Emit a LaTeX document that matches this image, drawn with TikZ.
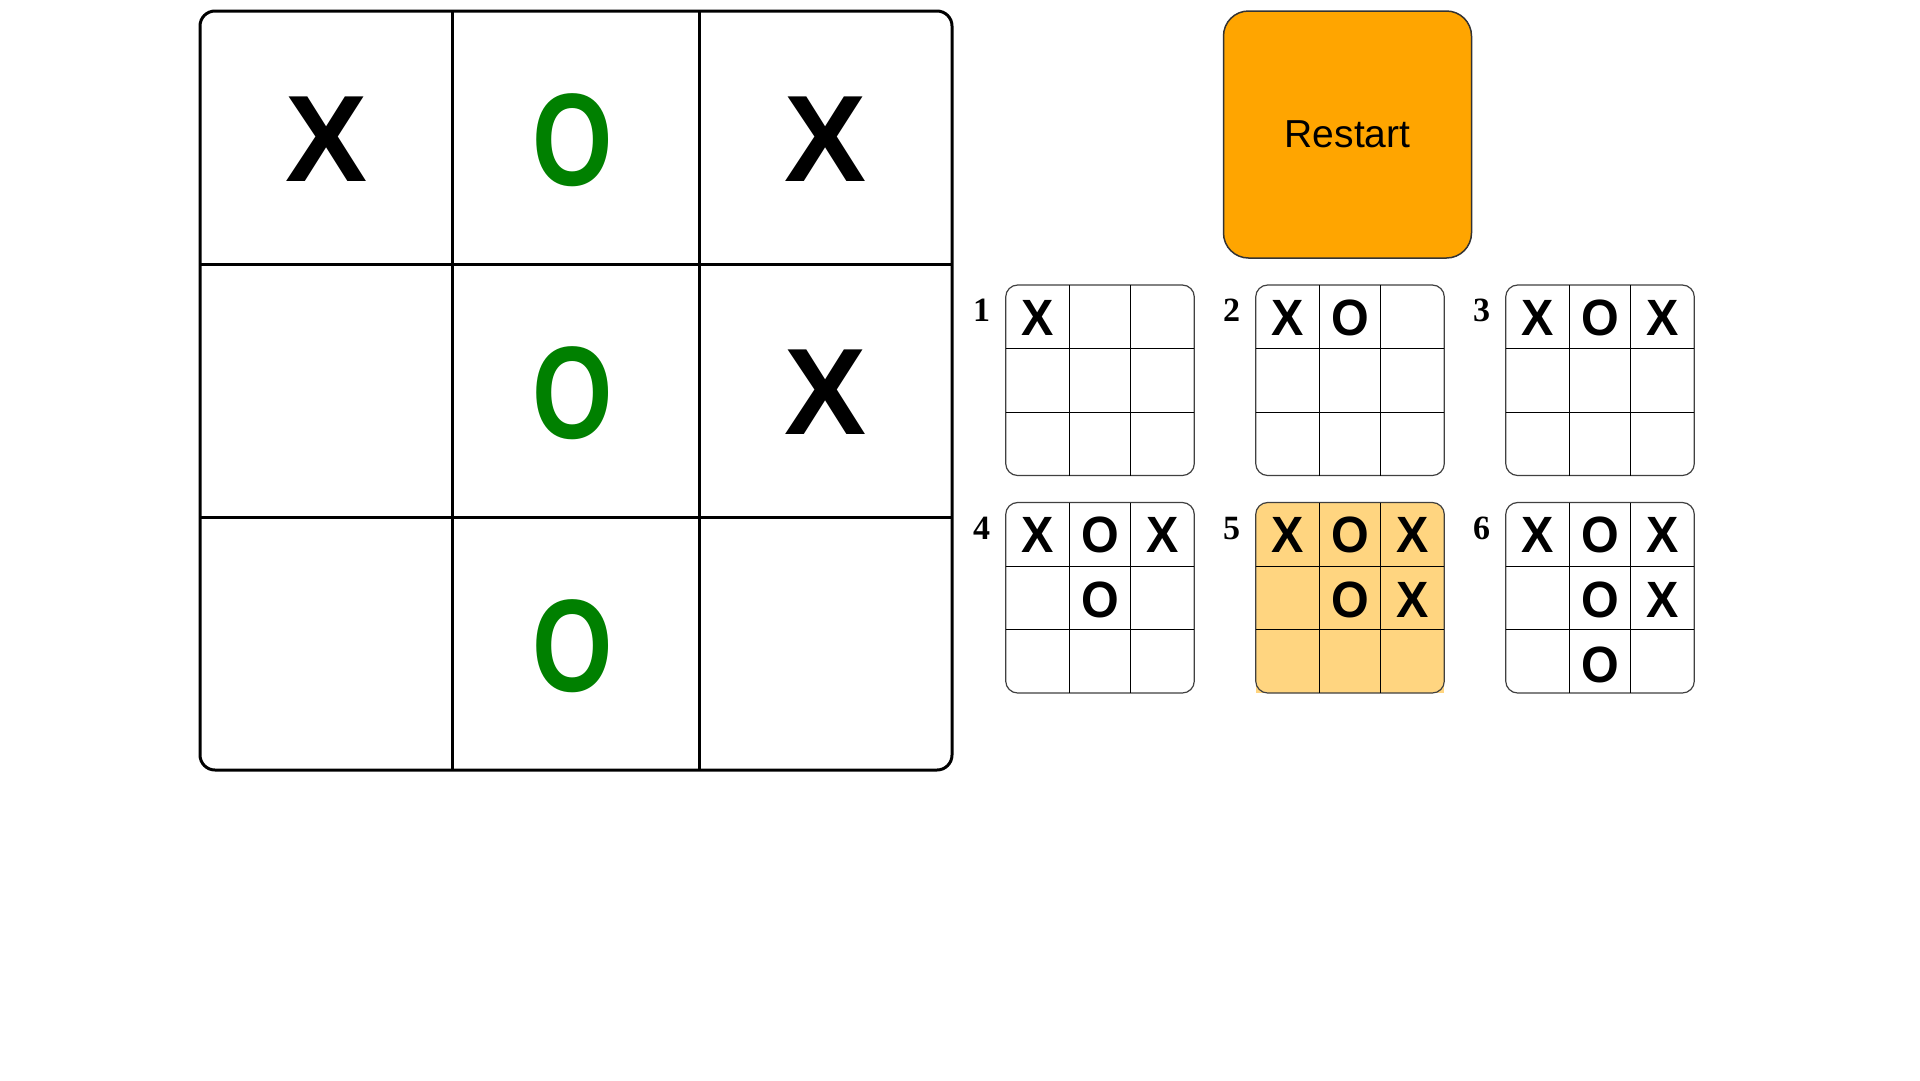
\documentclass[tikz,border=0pt]{standalone}
\usepackage{fontspec}
\setmainfont{Liberation Serif}
\setsansfont{Liberation Sans}
\definecolor{markgreen}{HTML}{008000}
\definecolor{btnorange}{HTML}{FFA500}
\definecolor{movehl}{HTML}{FFD580}

\begin{document}
\begin{tikzpicture}[x=1pt,y=-1pt,
    bigline/.style={line width=3pt},
    smallline/.style={line width=1pt},
    bigmark/.style={inner sep=0pt,font=\sffamily\bfseries\fontsize{123}{123}\selectfont},
    bigo/.style={bigmark,text=markgreen},
    smallmark/.style={inner sep=0pt,font=\sffamily\bfseries\fontsize{51}{51}\selectfont},
    movenum/.style={inner sep=0pt,anchor=base,font=\rmfamily\bfseries\fontsize{34}{34}\selectfont}]
  \useasboundingbox[fill=white] (0,0) rectangle (1920,1080);

  % main board
  \draw[bigline,rounded corners=15pt] (200,11) rectangle (952,770);
  \foreach \x in {452.3,699} \draw[bigline] (\x,11) -- (\x,770);
  \foreach \y in {264.3,517.3} \draw[bigline] (200,\y) -- (952,\y);
  \node[bigmark] (m00) at (326.5,139.5) {X};
  \node[bigo] (m10) at (573,140.5) {\scalebox{0.84}[1.07]{O}};
  \node[bigmark] (m20) at (826,139.5) {X};
  \node[bigo] (m11) at (573,393.5) {\scalebox{0.84}[1.07]{O}};
  \node[bigmark] (m21) at (826,392.5) {X};
  \node[bigo] (m12) at (573,646.5) {\scalebox{0.84}[1.07]{O}};

  \node[draw=black!80,line width=1.5pt,fill=btnorange,rounded corners=25pt,
        minimum width=248pt,minimum height=247pt,
        font=\sffamily\fontsize{39}{39}\selectfont] (restart) at (1347.5,134.5) {Restart};

  % history boards
  \fill[movehl,rounded corners=12pt] (1255.7,502.5) rectangle +(188.6,190.5);
  \fill[movehl] (1255.7,600) rectangle +(188.6,93);
  \foreach \n/\bx/\by/\marks in {
      1/1005.7/285/{0/0/X},
      2/1255.7/285/{0/0/X,1/0/O},
      3/1505.7/285/{0/0/X,1/0/O,2/0/X},
      4/1005.7/502.5/{0/0/X,1/0/O,2/0/X,1/1/O},
      5/1255.7/502.5/{0/0/X,1/0/O,2/0/X,1/1/O,2/1/X},
      6/1505.7/502.5/{0/0/X,1/0/O,2/0/X,1/1/O,2/1/X,1/2/O}}{
    \draw[line width=1.2pt,draw=black!75,rounded corners=12pt] (\bx,\by) rectangle +(188.6,190.5);
    \foreach \d in {64,125} \draw[smallline] (\bx+\d,\by) -- (\bx+\d,\by+190.5);
    \foreach \d in {63.7,127} \draw[smallline] (\bx,\by+\d) -- (\bx+188.6,\by+\d);
    \node[movenum] (num\n) at (\bx-24,\by+36.7) {\n};
    \foreach \c/\r/\t in \marks
      \node[smallmark] (b\n-\c\r) at (\bx+31.8+\c*62.5,\by+32.8+\r*64.8) {\scalebox{0.95}[1]{\t}};
  }
\end{tikzpicture}
\end{document}
